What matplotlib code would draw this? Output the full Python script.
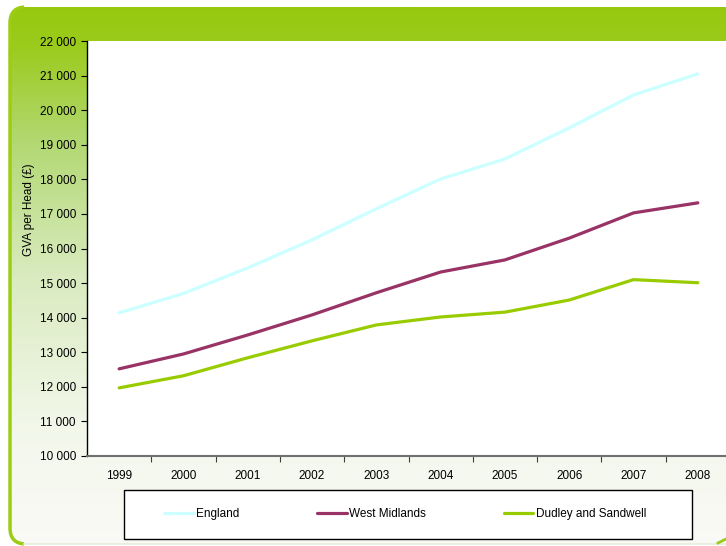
import numpy as np
import matplotlib.pyplot as plt
from matplotlib.patches import FancyBboxPatch, Rectangle
from matplotlib.colors import LinearSegmentedColormap

plt.rcParams['font.family'] = ['Liberation Sans', 'DejaVu Sans']

years = ["1999", "2000", "2001", "2002", "2003", "2004", "2005", "2006", "2007", "2008"]
england = [14140, 14700, 15440, 16250, 17150, 18010, 18590, 19490, 20440, 21050]
west_midlands = [12520, 12950, 13500, 14080, 14720, 15320, 15670, 16300, 17030, 17320]
dudley_sandwell = [11970, 12320, 12840, 13330, 13790, 14020, 14160, 14510, 15100, 15010]

W, H = 726, 546
fig = plt.figure(figsize=(W / 100, H / 100), dpi=100)
fig.patch.set_facecolor("white")

# background frame: green band on top fading to white at the bottom
bg = fig.add_axes([0, 0, 1, 1])
bg.set_xlim(0, W)
bg.set_ylim(H, 0)
bg.axis("off")
cmap = LinearSegmentedColormap.from_list(
    "frame",
    [(0.0, "#96c90e"), (0.07, "#9bcb1c"), (0.25, "#b2d872"),
     (0.5, "#d9ebbf"), (0.78, "#f2f7ea"), (1.0, "#fafaf6")])
grad = np.linspace(0, 1, 256).reshape(-1, 1)
frame = FancyBboxPatch((10, 7), W + 40, 537, boxstyle="round,pad=0,rounding_size=16",
                       facecolor="none", edgecolor="none")
bg.add_patch(frame)
im = bg.imshow(grad, cmap=cmap, extent=(10, W + 40, 544, 7), aspect="auto", zorder=0)
im.set_clip_path(frame)
# left border only (green), bottom edge a faint line
edge = FancyBboxPatch((10, 7), W + 40, 537, boxstyle="round,pad=0,rounding_size=16",
                      facecolor="none", edgecolor="#9ccc14", linewidth=2.5, zorder=2)
bg.add_patch(edge)
clip = Rectangle((0, 0), 24, H, transform=bg.transData, visible=False)
bg.add_patch(clip)
edge.set_clip_path(clip)
bg.plot([24, W], [544, 544], color="#e6eedb", lw=1.2, zorder=2)
bg.plot([718, W], [543, 539], color="#9ccc14", lw=2, zorder=2)

# main plot
ax = fig.add_axes([87 / W, (H - 456) / H, 643 / W, 415 / H])
ax.set_facecolor("white")
x = np.arange(len(years))
ax.plot(x, england, color="#ccffff", lw=2.3, label="England", solid_capstyle="round")
ax.plot(x, west_midlands, color="#993366", lw=2.3, label="West Midlands", solid_capstyle="round")
ax.plot(x, dudley_sandwell, color="#99cc00", lw=2.3, label="Dudley and Sandwell", solid_capstyle="round")

ax.set_xlim(-0.5, len(years) - 0.5)
ax.set_ylim(10000, 22000)
yt = np.arange(10000, 22001, 1000)
ax.set_yticks(yt)
ax.set_yticklabels([f"{v:,}".replace(",", " ") for v in yt])
ax.set_xticks(np.arange(0.5, len(years) - 0.5, 1))
ax.set_xticklabels([])
ax.set_xticks(x, minor=True)
ax.set_xticklabels(years, minor=True)
ax.tick_params(axis="x", which="major", length=4, color="#404040", direction="out")
ax.tick_params(axis="x", which="minor", length=0, pad=10, labelsize=8.5)
ax.tick_params(axis="y", length=4, direction="out", pad=4, labelsize=8.5)
for s in ["top", "right"]:
    ax.spines[s].set_visible(False)
ax.spines["left"].set_color("black")
ax.spines["left"].set_linewidth(1.0)
ax.spines["bottom"].set_color("#707070")
ax.spines["bottom"].set_linewidth(1.5)

fig.text(29 / W, 1 - 210 / H, "GVA per Head (£)", rotation=90, ha="center", va="center", fontsize=8.5)

# legend box drawn separately, entries centred inside it
bg.add_patch(Rectangle((124, 490), 568, 49, facecolor="white", edgecolor="black", lw=1.0, zorder=3))
leg = fig.legend(loc="center", ncol=3, fontsize=8.5,
                 bbox_to_anchor=(405 / W, 1 - 514 / H),
                 frameon=False, handlelength=2.5, handletextpad=0.2,
                 columnspacing=6.6)

fig.savefig("out.png", dpi=100)
